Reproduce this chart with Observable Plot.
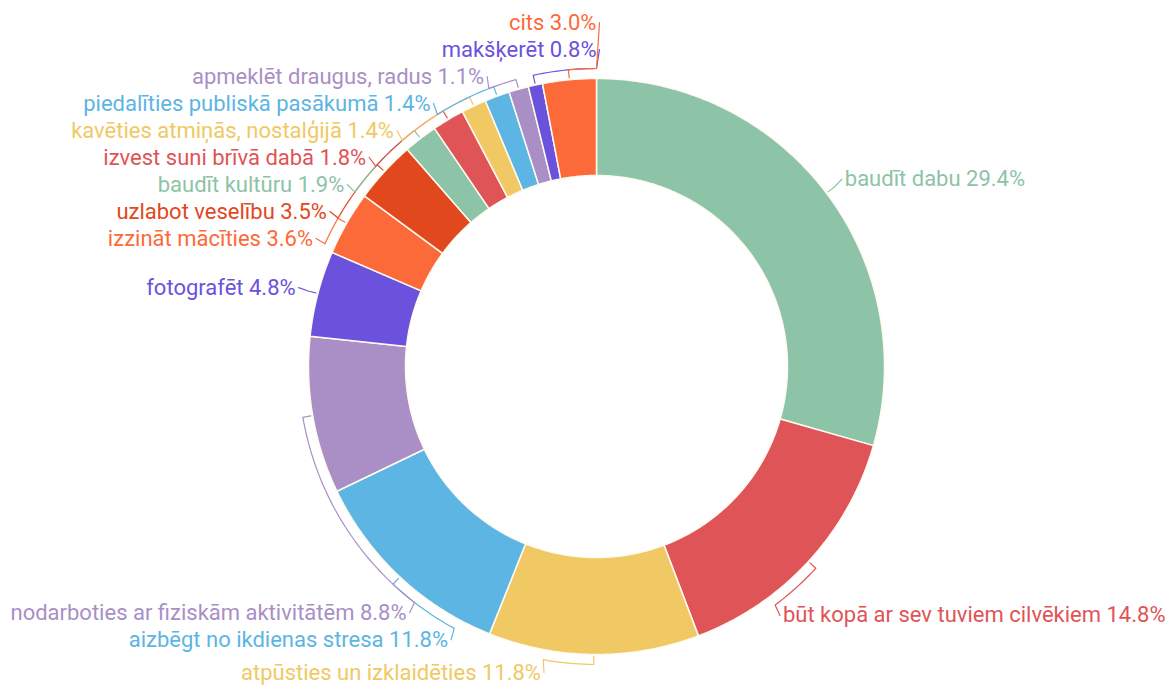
<!DOCTYPE html>
<html><head><meta charset="utf-8">
<script src="https://cdn.jsdelivr.net/npm/d3@7"></script>
<script src="https://cdn.jsdelivr.net/npm/@observablehq/plot@0.6"></script>
<style>html,body{margin:0;padding:0;background:#fff;} #chart svg{display:block}</style>
</head><body><div id="chart"></div>
<script>
// ---- data ----
const labels = [
  "baudīt dabu",
  "būt kopā ar sev tuviem cilvēkiem",
  "atpūsties un izklaidēties",
  "aizbēgt no ikdienas stresa",
  "nodarboties ar fiziskām aktivitātēm",
  "fotografēt",
  "izzināt mācīties",
  "uzlabot veselību",
  "baudīt kultūru",
  "izvest suni brīvā dabā",
  "kavēties atmiņās, nostalģijā",
  "piedalīties publiskā pasākumā",
  "apmeklēt draugus, radus",
  "makšķerēt",
  "cits"
];
const values = [29.4, 14.8, 11.8, 11.8, 8.8, 4.8, 3.6, 3.5, 1.9, 1.8, 1.4, 1.4, 1.1, 0.8, 3.0];
const palette = ["#8dc3a6", "#df5456", "#f0c964", "#5cb5e3", "#a98fc6", "#6b52dd", "#fd6a39", "#e1481d"];

// ---- layout ----
const W = 1171, H = 687, CX = 596, CY = 366;
const R_OUT = 288, R_IN = 191, R_LEAD = 298, R_LABEL = 311, SPACING = 27, FONT = 22;
const TOP = 22, BOTTOM = 672;

const rows = labels.map((label, i) => ({label, value: values[i], color: palette[i % palette.length], key: i}));
const arcs = d3.pie().sort(null).value(d => d.value).startAngle(0).endAngle(2 * Math.PI)(rows);
const pt = (a, r) => [CX + r * Math.sin(a), CY - r * Math.cos(a)];

// slice polygons
const slicePts = [];
arcs.forEach(a => {
  const n = Math.max(2, Math.ceil((a.endAngle - a.startAngle) / (Math.PI / 360)));
  for (let i = 0; i <= n; i++) {
    const t = a.startAngle + (a.endAngle - a.startAngle) * i / n;
    const [x, y] = pt(t, R_OUT);
    slicePts.push({key: a.data.key, color: a.data.color, x, y});
  }
  for (let i = n; i >= 0; i--) {
    const t = a.startAngle + (a.endAngle - a.startAngle) * i / n;
    const [x, y] = pt(t, R_IN);
    slicePts.push({key: a.data.key, color: a.data.color, x, y});
  }
});

// label placement
const ctx = document.createElement("canvas").getContext("2d");
ctx.font = `${FONT}px Roboto`;
const items = arcs.map(a => {
  const mid = (a.startAngle + a.endAngle) / 2;
  const side = mid < Math.PI ? 1 : -1;
  const text = `${a.data.label} ${a.data.value.toFixed(1)}%`;
  const w = ctx.measureText(text).width;
  let y = CY - R_LABEL * Math.cos(mid);
  let lb = -Infinity, ub = Infinity;
  const avail = side > 0 ? (W - 6 - w - CX) : (CX - w - 10);
  if (avail < R_LABEL) {
    const need = Math.sqrt(Math.max(0, R_LABEL * R_LABEL - Math.max(0, avail) ** 2));
    if (Math.abs(y - CY) < need) {
      if (y >= CY) { y = CY + need; lb = y; } else { y = CY - need; ub = y; }
    }
  }
  return {mid, side, text, w, t: y, lb, ub, color: a.data.color, key: a.data.key};
});

function pava(vals) {
  const blocks = [];
  vals.forEach(v => {
    blocks.push({sum: v, n: 1});
    while (blocks.length > 1) {
      const b = blocks[blocks.length - 1], p = blocks[blocks.length - 2];
      if (p.sum / p.n > b.sum / b.n) { blocks.pop(); p.sum += b.sum; p.n += b.n; } else break;
    }
  });
  const out = [];
  blocks.forEach(b => { for (let k = 0; k < b.n; k++) out.push(b.sum / b.n); });
  return out;
}

function placeSide(list) {
  const z = pava(list.map((d, i) => d.t - i * SPACING));
  list.forEach((d, i) => d.y = z[i] + i * SPACING);
  for (let i = 0; i < list.length; i++) {
    list[i].y = Math.max(list[i].y, list[i].lb, i ? list[i - 1].y + SPACING : TOP);
  }
  for (let i = list.length - 1; i >= 0; i--) {
    list[i].y = Math.min(list[i].y, list[i].ub, i < list.length - 1 ? list[i + 1].y - SPACING : BOTTOM);
  }
}
const left = items.filter(d => d.side < 0).sort((a, b) => b.mid - a.mid);
const right = items.filter(d => d.side > 0).sort((a, b) => a.mid - b.mid);
placeSide(left); placeSide(right);

const leaderPts = [];
items.forEach(d => {
  const dy = d.y - CY;
  const dx = Math.abs(dy) < R_LABEL ? Math.sqrt(R_LABEL * R_LABEL - dy * dy) : 0;
  d.xa = CX + d.side * dx;
  let th;
  if (dx > 0) {
    th = Math.atan2(d.side * dx, -dy);
    if (th < 0) th += 2 * Math.PI;
  } else {
    th = dy < 0 ? (d.side > 0 ? 0 : 2 * Math.PI) : Math.PI;
  }
  const push = ([x, y]) => leaderPts.push({key: d.key, color: d.color, x, y});
  push(pt(d.mid, R_OUT + 2));
  const n = Math.max(1, Math.ceil(Math.abs(th - d.mid) / (Math.PI / 180)));
  for (let i = 0; i <= n; i++) push(pt(d.mid + (th - d.mid) * i / n, R_LEAD));
  push([d.xa - d.side * 3, d.y]);
});

const chart = Plot.plot({
  width: W, height: H, margin: 0,
  x: {domain: [0, W], range: [0, W], axis: null},
  y: {domain: [0, H], range: [0, H], axis: null},
  color: {type: "identity"},
  style: {fontFamily: "Roboto, sans-serif", background: "#fff", overflow: "visible"},
  marks: [
    Plot.line(slicePts, {x: "x", y: "y", z: "key", fill: "color", stroke: "#fffaf0", strokeWidth: 1.5, curve: "linear-closed"}),
    Plot.line(leaderPts, {x: "x", y: "y", z: "key", stroke: "color", strokeWidth: 1.2}),
    Plot.text(left, {x: "xa", y: "y", text: "text", fill: "color", textAnchor: "end", fontSize: FONT}),
    Plot.text(right, {x: "xa", y: "y", text: "text", fill: "color", textAnchor: "start", fontSize: FONT})
  ]
});
document.getElementById("chart").appendChild(chart);
</script>
</body></html>
